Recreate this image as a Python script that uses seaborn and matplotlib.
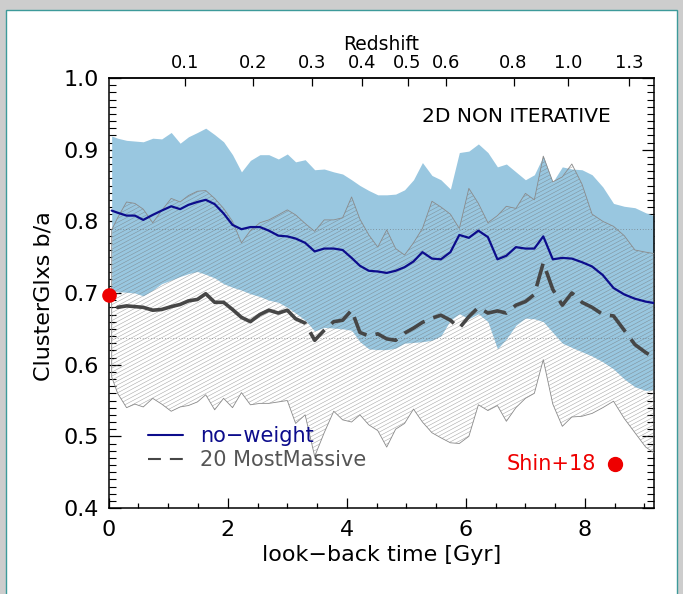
import numpy as np
import pandas as pd
import matplotlib
matplotlib.use("Agg")
import matplotlib.pyplot as plt
import seaborn as sns
from matplotlib.patches import Rectangle
from matplotlib.collections import LineCollection
from matplotlib.lines import Line2D
from matplotlib.ticker import MultipleLocator, FormatStrFormatter, NullLocator

# look-back time of each snapshot [Gyr]
t_gyr = [0.05, 0.15, 0.30, 0.44, 0.58, 0.74, 0.89, 1.05, 1.20, 1.34,
         1.49, 1.63, 1.78, 1.93, 2.08, 2.23, 2.38, 2.54, 2.69, 2.85,
         3.00, 3.14, 3.30, 3.46, 3.62, 3.78, 3.93, 4.08, 4.22, 4.37,
         4.52, 4.67, 4.82, 4.97, 5.12, 5.27, 5.43, 5.58, 5.74, 5.89,
         6.05, 6.21, 6.37, 6.53, 6.68, 6.84, 7.00, 7.15, 7.30, 7.46,
         7.62, 7.78, 7.95, 8.12, 8.30, 8.48, 8.66, 8.84, 9.02, 9.16]

# all cluster galaxies, no weighting: upper / lower envelope and median b/a
noweight_hi = [0.919, 0.916, 0.913, 0.912, 0.911, 0.916, 0.915, 0.924, 0.909, 0.918,
               0.924, 0.930, 0.921, 0.911, 0.893, 0.869, 0.885, 0.893, 0.893, 0.887,
               0.894, 0.883, 0.886, 0.872, 0.873, 0.869, 0.866, 0.858, 0.850, 0.843,
               0.837, 0.837, 0.838, 0.844, 0.858, 0.882, 0.864, 0.858, 0.845, 0.896,
               0.898, 0.908, 0.896, 0.876, 0.880, 0.869, 0.858, 0.865, 0.891, 0.855,
               0.876, 0.873, 0.872, 0.865, 0.848, 0.825, 0.821, 0.819, 0.812, 0.808]
noweight_lo = [0.703, 0.702, 0.701, 0.700, 0.696, 0.704, 0.713, 0.718, 0.723, 0.727,
               0.730, 0.726, 0.721, 0.713, 0.708, 0.704, 0.699, 0.695, 0.690, 0.687,
               0.680, 0.672, 0.662, 0.647, 0.652, 0.651, 0.650, 0.648, 0.632, 0.622,
               0.621, 0.621, 0.623, 0.630, 0.631, 0.632, 0.634, 0.640, 0.662, 0.671,
               0.664, 0.671, 0.660, 0.622, 0.636, 0.655, 0.665, 0.664, 0.660, 0.645,
               0.630, 0.624, 0.618, 0.612, 0.604, 0.594, 0.580, 0.569, 0.564, 0.565]
noweight_med = [0.815, 0.812, 0.808, 0.808, 0.802, 0.809, 0.815, 0.821, 0.817, 0.823,
                0.827, 0.830, 0.824, 0.811, 0.795, 0.789, 0.792, 0.792, 0.787, 0.780,
                0.779, 0.776, 0.770, 0.758, 0.762, 0.762, 0.760, 0.749, 0.738, 0.731,
                0.730, 0.728, 0.731, 0.736, 0.744, 0.757, 0.748, 0.747, 0.757, 0.781,
                0.777, 0.787, 0.778, 0.747, 0.752, 0.764, 0.762, 0.762, 0.779, 0.747,
                0.749, 0.748, 0.743, 0.737, 0.725, 0.707, 0.698, 0.692, 0.688, 0.686]

# 20 most massive galaxies: upper / lower envelope and median b/a
massive_hi = [0.788, 0.805, 0.827, 0.825, 0.817, 0.798, 0.815, 0.832, 0.827, 0.836,
              0.842, 0.843, 0.832, 0.818, 0.800, 0.770, 0.787, 0.798, 0.802, 0.809,
              0.816, 0.809, 0.797, 0.786, 0.802, 0.802, 0.805, 0.834, 0.803, 0.781,
              0.764, 0.788, 0.762, 0.753, 0.770, 0.790, 0.828, 0.820, 0.810, 0.790,
              0.846, 0.825, 0.798, 0.808, 0.821, 0.818, 0.839, 0.830, 0.891, 0.855,
              0.862, 0.880, 0.852, 0.810, 0.800, 0.793, 0.780, 0.760, 0.757, 0.755]
massive_lo = [0.583, 0.560, 0.540, 0.545, 0.541, 0.553, 0.545, 0.535, 0.541, 0.543,
              0.548, 0.558, 0.537, 0.553, 0.540, 0.561, 0.544, 0.546, 0.546, 0.548,
              0.550, 0.518, 0.530, 0.472, 0.505, 0.535, 0.523, 0.520, 0.530, 0.516,
              0.508, 0.485, 0.510, 0.518, 0.538, 0.520, 0.505, 0.498, 0.491, 0.490,
              0.500, 0.544, 0.536, 0.543, 0.521, 0.540, 0.553, 0.560, 0.607, 0.545,
              0.514, 0.527, 0.528, 0.532, 0.540, 0.549, 0.525, 0.505, 0.485, 0.477]
massive_med = [np.nan, 0.680, 0.682, 0.681, 0.680, 0.676, 0.677, 0.681, 0.684, 0.689,
               0.691, 0.699, 0.687, 0.687, 0.677, 0.666, 0.660, 0.670, 0.676, 0.672,
               0.676, 0.664, 0.658, 0.634, 0.648, 0.660, 0.662, 0.676, 0.645, 0.640,
               0.643, 0.636, 0.634, 0.644, 0.651, 0.659, 0.665, 0.669, 0.662, 0.651,
               0.667, 0.680, 0.672, 0.675, 0.672, 0.683, 0.688, 0.698, 0.742, 0.705,
               0.683, 0.700, 0.687, 0.680, 0.670, 0.668, 0.648, 0.628, 0.617, 0.610]

# redshift axis: tick values and their look-back times [Gyr]
z_ticks = [0.1, 0.2, 0.3, 0.4, 0.5, 0.6, 0.8, 1.0, 1.3]
z_tick_time = [1.29, 2.43, 3.42, 4.26, 5.02, 5.67, 6.80, 7.72, 8.74]

# observational reference (Shin+18)
shin_t = [0.0]
shin_ba = [0.697]

# dotted reference levels
ref_levels = [0.789, 0.637]

sns.set_style("ticks")
plt.rcParams["font.family"] = ["DejaVu Sans"]
plt.rcParams["text.color"] = "black"
plt.rcParams["axes.labelcolor"] = "black"
plt.rcParams["xtick.color"] = "black"
plt.rcParams["ytick.color"] = "black"

BAND = "#99c7e0"
NAVY = "#0c0c8c"
DARK = "#464646"
RED = "#ee0000"

fig = plt.figure(figsize=(6.83, 5.94), dpi=100, facecolor="#cdcdcd")
panel = Rectangle((6 / 683, -0.05), 671 / 683, 1.05 - 10 / 594,
                  transform=fig.transFigure, facecolor="white",
                  edgecolor="#3d9a9a", lw=1.0, zorder=-10)
fig.add_artist(panel)

W, H = 545.3, 430.0
ax = fig.add_axes([108.7 / 683, 1 - 508 / 594, W / 683, H / 594])
ax.set_facecolor("white")

df = pd.DataFrame({"t": t_gyr, "nw": noweight_med, "mm": massive_med})

# no-weight envelope
ax.fill_between(t_gyr, noweight_lo, noweight_hi, color=BAND, lw=0, zorder=1)

# most-massive envelope: outline plus diagonal hatching clipped to it
poly = ax.fill_between(t_gyr, massive_lo, massive_hi, facecolor="none",
                       edgecolor="#8a8a8a", lw=0.6, zorder=3)
theta = np.deg2rad(28)
step = 3.5 / np.cos(theta)
offs = np.arange(-W * np.tan(theta), H + step, step)
segs = [[(0, c / H), (1, (W * np.tan(theta) + c) / H)] for c in offs]
hatch = LineCollection(segs, transform=ax.transAxes, colors="#707070",
                       linewidths=0.4, alpha=0.6, zorder=2.5)
ax.add_collection(hatch, autolim=False)
hatch.set_clip_path(poly.get_paths()[0], poly.get_transform())

for lev in ref_levels:
    ax.axhline(lev, ls=(0, (1, 3)), color="#666666", lw=0.5, zorder=2.6)

# medians
sns.lineplot(data=df, x="t", y="nw", color=NAVY, lw=1.6, ax=ax,
             zorder=5, legend=False)
sns.lineplot(data=df[df.t <= 3.0], x="t", y="mm", color=DARK, lw=2.6,
             ax=ax, zorder=5, legend=False)
sns.lineplot(data=df[df.t >= 3.0], x="t", y="mm", color=DARK, lw=2.6,
             ax=ax, zorder=5, legend=False, dashes=False)
ax.lines[-1].set_linestyle((0, (6.5, 2.6)))

ax.plot(shin_t, shin_ba, "o", color=RED, ms=9.5, clip_on=False, zorder=6)
ax.plot([8.5], [0.462], "o", color=RED, ms=10, zorder=6)
ax.text(8.19, 0.462, "Shin+18", color=RED, ha="right", va="center", fontsize=15)

ax.text(6.85, 0.946, "2D NON ITERATIVE", ha="center", va="center",
        fontsize=14.5, color="black")

handles = [Line2D([], [], color=NAVY, lw=1.5),
           Line2D([], [], color=DARK, lw=1.5, ls=(0, (6.2, 4.3)))]
ax.legend(handles, ["no\u2212weight", "20 MostMassive"], loc="upper left",
          bbox_to_anchor=(0.072, 0.19), frameon=False, fontsize=15,
          handlelength=1.68, handletextpad=0.8, labelspacing=0.2,
          borderpad=0, borderaxespad=0, labelcolor=[NAVY, "#555555"])

ax.set_xlim(0, 9.16)
ax.set_ylim(0.4, 1.0)
ax.xaxis.set_major_locator(MultipleLocator(2))
ax.xaxis.set_minor_locator(MultipleLocator(0.5))
ax.yaxis.set_major_locator(MultipleLocator(0.1))
ax.yaxis.set_minor_locator(MultipleLocator(0.01))
ax.yaxis.set_major_formatter(FormatStrFormatter("%.1f"))
ax.tick_params(axis="x", which="major", direction="in", length=7, width=0.9,
               top=False, labelsize=16, pad=9, color="black", labelcolor="black")
ax.tick_params(axis="x", which="minor", direction="in", length=3.6, width=0.9,
               top=False, color="black")
ax.tick_params(axis="y", which="major", direction="in", length=8.6, width=0.9,
               left=True, right=True, labelsize=16, pad=7, color="black",
               labelcolor="black")
ax.tick_params(axis="y", which="minor", direction="in", length=5, width=0.8,
               left=True, right=True, color="black")
for sp in ax.spines.values():
    sp.set_visible(True)
    sp.set_linewidth(1.1)
    sp.set_color("black")

ax.set_xlabel("look\u2212back time [Gyr]", fontsize=16, color="black")
ax.xaxis.set_label_coords(0.5, -0.085)
ax.set_ylabel("ClusterGlxs b/a", fontsize=16, color="black")
ax.yaxis.set_label_coords(-0.102, 0.493)

secax = ax.secondary_xaxis("top")
secax.set_xticks(z_tick_time, labels=[f"{z:.1f}" for z in z_ticks])
secax.xaxis.set_minor_locator(NullLocator())
secax.tick_params(direction="in", length=5.5, width=0.9, labelsize=13, pad=4,
                  color="black", labelcolor="black")
secax.spines["top"].set_linewidth(1.1)
ax.text(0.5, 1.079, "Redshift", transform=ax.transAxes, ha="center",
        va="center", fontsize=13.5, color="black")

fig.savefig("out.png", dpi=100, facecolor=fig.get_facecolor())
